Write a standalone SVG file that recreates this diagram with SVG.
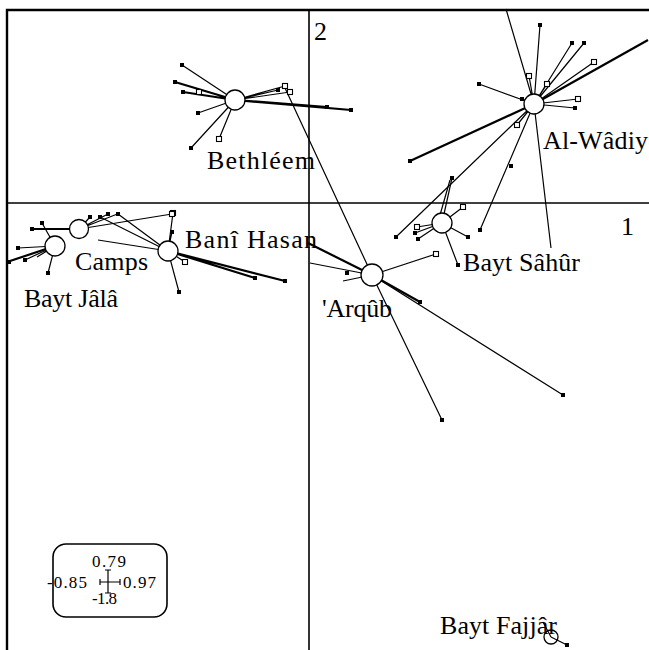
<svg xmlns="http://www.w3.org/2000/svg" xmlns:xlink="http://www.w3.org/1999/xlink" width="649" height="650" viewBox="0 0 649 650">
<style>
.ax{stroke:#000;stroke-width:1.6;fill:none}
.fr{stroke:#000;stroke-width:2.4;fill:none}
.ln{stroke:#000;stroke-width:1.2;fill:none}
.tk{stroke:#000;stroke-width:2.2;fill:none}
.c{fill:#fff;stroke:#000;stroke-width:1.3}
.lb{font-family:"Liberation Serif","Times New Roman",serif;font-size:26px;fill:#000}
.lg{font-family:"Liberation Serif","Times New Roman",serif;font-size:17px;fill:#000}
</style>
<defs>
<rect id="f" x="-2" y="-2" width="4" height="4" fill="#000"/>
<rect id="o" x="-2.5" y="-2.5" width="5" height="5" fill="#fff" stroke="#000" stroke-width="1.1"/>
</defs>
<rect width="649" height="650" fill="#fff"/>
<g id="frame">
<path class="fr" d="M7,650 V10 H649"/>
<path class="ax" d="M309,10 V650 M7,203 H649"/>
<text class="lb" x="314" y="40">2</text>
<text class="lb" x="621" y="235">1</text>
</g>
<g id="connectors">
<path class="ln" d="M235,100 L182,65 M235,100 L198,113 M235,100 L191,148 M235,100 L219,139 M235,100 L285,86 M235,100 L290,92 M235,100 L278,90"/>
<path class="tk" d="M235,100 L175,82 M235,100 L183,92 M235,100 L327,107 M235,100 L351,110"/>
<path class="ln" d="M534,104 L506,9 M534,104 L540,25 M534,104 L572,43 M534,104 L584,43 M534,104 L594,62 M534,104 L529,76 M534,104 L547,84 M534,104 L479,84 M534,104 L522,99 M534,104 L578,99 M534,104 L575,108 M534,104 L396,237 M534,104 L517,125 M534,104 L480,230 M534,104 L551,248"/>
<path class="tk" d="M534,104 L648,40 M534,104 L410,161"/>
<path class="ln" d="M442,223 L452,178 M438,222 L450,180 M442,223 L463,207 M442,223 L468,237 M442,223 L458,265 M442,223 L417,227 M442,223 L415,233 M442,223 L418,239"/>
<path class="ln" d="M372,275 L285,88 M372,275 L436,254 M372,275 L442,420 M372,275 L563,395 M372,275 L310,263 M372,275 L343,281"/>
<path class="tk" d="M372,275 L420,302 M372,275 L308,243"/>
<path class="ln" d="M168,251 L173,213 M168,251 L172,232 M168,251 L179,292 M168,251 L185,262 M168,251 L100,217 M168,251 L118,214 M168,251 L98,240"/>
<path class="tk" d="M168,251 L255,278 M168,251 L285,281"/>
<path class="ln" d="M79,229 L90,217 M79,229 L108,214 M79,229 L120,213 M79,229 L172,214"/>
<path class="tk" d="M79,229 L32,229"/>
<path class="ln" d="M55,246 L42,223 M55,246 L18,248 M55,246 L25,260 M55,246 L48,273 M55,246 L37,257"/>
<path class="tk" d="M55,246 L7,262"/>
<path class="ln" d="M551,637 L567,645 M551,637 L543,622"/>
</g>
<g id="points">
<use href="#f" x="182" y="65"/><use href="#f" x="175" y="82"/><use href="#f" x="183" y="92"/><use href="#o" x="199" y="92"/><use href="#f" x="198" y="113"/><use href="#f" x="191" y="148"/><use href="#o" x="219" y="139"/><use href="#o" x="285" y="86"/><use href="#o" x="290" y="92"/><use href="#f" x="278" y="90"/><use href="#f" x="327" y="107"/><use href="#f" x="351" y="110"/>
<use href="#f" x="540" y="25"/><use href="#f" x="572" y="43"/><use href="#f" x="584" y="43"/><use href="#o" x="594" y="62"/><use href="#o" x="529" y="76"/><use href="#o" x="547" y="84"/><use href="#f" x="479" y="84"/><use href="#f" x="522" y="99"/><use href="#o" x="578" y="99"/><use href="#f" x="575" y="108"/><use href="#f" x="410" y="161"/><use href="#f" x="396" y="237"/><use href="#o" x="517" y="125"/><use href="#f" x="480" y="230"/><use href="#f" x="511" y="166"/>
<use href="#f" x="452" y="178"/><use href="#o" x="463" y="207"/><use href="#f" x="468" y="237"/><use href="#f" x="458" y="265"/><use href="#o" x="417" y="227"/><use href="#f" x="415" y="233"/><use href="#f" x="418" y="239"/>
<use href="#o" x="436" y="254"/><use href="#f" x="442" y="420"/><use href="#f" x="563" y="395"/><use href="#f" x="420" y="302"/><use href="#f" x="347" y="273"/>
<use href="#o" x="173" y="213"/><use href="#f" x="172" y="232"/><use href="#f" x="179" y="292"/><use href="#o" x="185" y="262"/><use href="#f" x="255" y="278"/><use href="#f" x="285" y="281"/><use href="#f" x="100" y="217"/><use href="#f" x="118" y="214"/>
<use href="#f" x="90" y="217"/><use href="#f" x="108" y="214"/><use href="#o" x="172" y="214"/><use href="#f" x="32" y="229"/>
<use href="#f" x="42" y="223"/><use href="#f" x="18" y="248"/><use href="#f" x="9" y="262"/><use href="#f" x="25" y="260"/><use href="#f" x="48" y="273"/>
<use href="#f" x="567" y="645"/>
</g>
<g id="node-bethleem"><circle class="c" cx="235" cy="100" r="10"/><text class="lb" x="207" y="169" textLength="108" lengthAdjust="spacing">Bethléem</text></g>
<g id="node-alwadiy"><circle class="c" cx="534" cy="104" r="10"/><text class="lb" x="543" y="149" textLength="105" lengthAdjust="spacing">Al-Wâdiy</text></g>
<g id="node-baytsahur"><circle class="c" cx="442" cy="223" r="10"/><text class="lb" x="463" y="271" textLength="117" lengthAdjust="spacing">Bayt Sâhûr</text></g>
<g id="node-arqub"><circle class="c" cx="372" cy="275" r="11"/><text class="lb" x="322" y="317" textLength="70" lengthAdjust="spacing">'Arqûb</text></g>
<g id="node-banihasan"><circle class="c" cx="168" cy="251" r="10"/><text class="lb" x="185" y="248" textLength="132" lengthAdjust="spacing">Banî Hasan</text></g>
<g id="node-camps"><circle class="c" cx="79" cy="229" r="9.5"/><text class="lb" x="75" y="270" textLength="73" lengthAdjust="spacing">Camps</text></g>
<g id="node-baytjala"><circle class="c" cx="55" cy="246" r="10"/><text class="lb" x="24" y="307" textLength="94" lengthAdjust="spacing">Bayt Jâlâ</text></g>
<g id="node-baytfajjar"><text class="lb" x="440" y="634" textLength="117" lengthAdjust="spacing">Bayt Fajjâr</text><circle class="c" cx="551" cy="637" r="7" fill-opacity="0"/></g>
<g id="legend">
<rect x="53" y="544" width="114" height="73" rx="13" fill="none" stroke="#000" stroke-width="1.6"/>
<text class="lg" x="92" y="567" textLength="34" lengthAdjust="spacing">0.79</text>
<text class="lg" x="47" y="588" textLength="40" lengthAdjust="spacing">-0.85</text>
<text class="lg" x="123" y="588" textLength="33" lengthAdjust="spacing">0.97</text>
<text class="lg" x="92" y="604" textLength="25" lengthAdjust="spacing">-1.8</text>
<path class="ln" d="M108,570 V593 M100,582 H120 M105,570 H111 M105,593 H111 M100,579 V585 M120,579 V585"/>
</g>
</svg>
